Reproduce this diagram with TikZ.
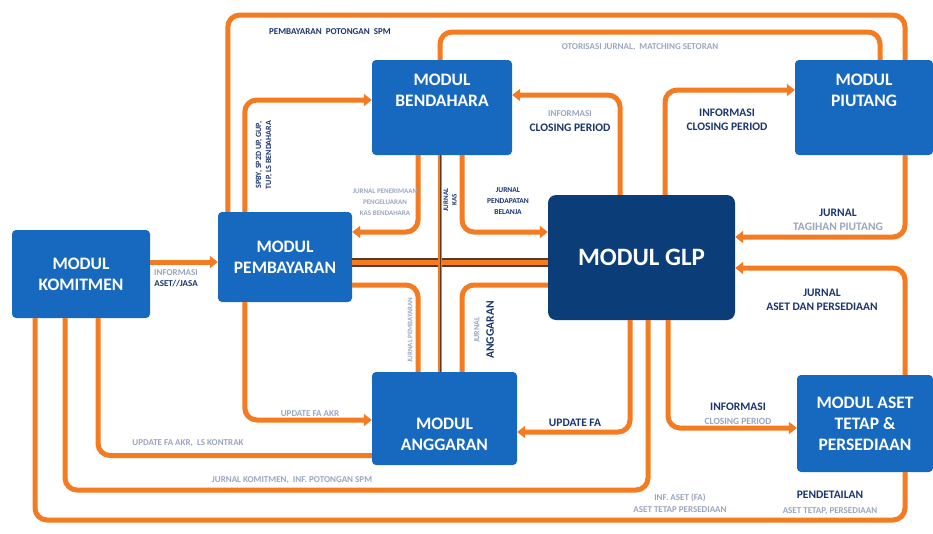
\documentclass[tikz,border=0pt]{standalone}
\usepackage{fontspec}
\setmainfont{Carlito}
\usetikzlibrary{arrows.meta}
\definecolor{modblue}{HTML}{1769C0}
\definecolor{glpblue}{HTML}{0B3D78}
\definecolor{flow}{HTML}{F47B20}
\definecolor{lbl}{HTML}{1A3570}
\definecolor{faintc}{HTML}{9AA6C0}
\definecolor{brownc}{HTML}{5A3A2A}
\begin{document}
\begin{tikzpicture}[x=1pt,y=-1pt,
  module/.style={draw=none, fill=modblue, rounded corners=4pt, inner sep=0pt},
  modtext/.style={text=white, font=\bfseries\fontsize{17.5}{21}\selectfont, align=center, inner sep=0pt},
  flowline/.style={draw=flow, line width=5pt, rounded corners=12pt},
  arr/.style={-{Triangle[length=8pt,width=12pt]}},
  lab/.style={text=lbl, font=\bfseries\fontsize{11.5}{14.5}\selectfont, align=center, inner sep=1pt},
  smalllab/.style={lab, font=\bfseries\fontsize{9}{11.5}\selectfont},
  faint/.style={text=faintc}]
\useasboundingbox[fill=white] (0,0) rectangle (933,533);

% modules
\node[module, minimum width=138, minimum height=88] (komitmen) at (81,274) {};
\node[module, minimum width=134, minimum height=90] (pembayaran) at (285,257) {};
\node[module, minimum width=140, minimum height=95] (bendahara) at (442,107.5) {};
\node[module, fill=glpblue, minimum width=187, minimum height=125, rounded corners=8pt] (glp) at (641.5,257.5) {};
\node[module, minimum width=138, minimum height=95] (piutang) at (864,107.5) {};
\node[module, minimum width=145, minimum height=93] (anggaran) at (444.5,418.5) {};
\node[module, minimum width=136, minimum height=97] (aset) at (865,423.5) {};

% flows
\draw[flowline] ([xshift=10]pembayaran.north west) |- (905,15) -- ([xshift=41]piutang.north);
\draw[flowline] ([xshift=-2]bendahara.north) |- (880,32) -- ([xshift=16]piutang.north);
\draw[flowline, arr] ([xshift=27]pembayaran.north west) |- ([yshift=7.5]bendahara.west);
\draw[flowline, arr] ([xshift=-21.5]glp.north) |- ([yshift=12.5]bendahara.east);
\draw[flowline, arr] ([xshift=23.5]glp.north) |- ([yshift=17.5]piutang.west);
\draw[flowline, arr] ([xshift=41]piutang.south) |- ([yshift=20.5]glp.east);
\draw[flowline, arr] ([xshift=40]aset.north) |- ([yshift=-10.5]glp.east);
\draw[flowline, arr] ([xshift=26.5]glp.south) |- ([yshift=-4.5]aset.west);
\draw[flowline, arr] ([xshift=-11.5]glp.south) |- ([yshift=-13.5]anggaran.east);
\draw[flowline, arr] ([yshift=12]komitmen.east) -- ([yshift=-5]pembayaran.west);
\draw[flowline, arr] ([xshift=27]pembayaran.south west) |- ([yshift=-1.5]anggaran.west);
\draw[flowline] ([xshift=17]komitmen.south) |- ([yshift=-37]anggaran.west);
\draw[flowline] ([xshift=-16]komitmen.south) |- (648,490) -- ([xshift=6.5]glp.south);
\draw[flowline] ([xshift=-46]komitmen.south) |- (905,520) -- ([xshift=40]aset.south);

% central cross
\draw[flowline, arr] ([xshift=-24]bendahara.south) |- ([yshift=25]pembayaran.east);
\draw[flowline, arr] ([xshift=20]bendahara.south) |- ([yshift=25.5]glp.west);
\draw[flowline] ([yshift=-28]pembayaran.east) -| ([xshift=-26.5]anggaran.north);
\draw[flowline] ([yshift=-27.5]glp.west) -| ([xshift=17.5]anggaran.north);
\draw[draw=brownc, line width=9pt] ([yshift=-5]pembayaran.east) -- ([yshift=-4.5]glp.west);
\draw[draw=flow, line width=5pt] ([yshift=-5]pembayaran.east) -- ([yshift=-4.5]glp.west);
\draw[draw=flow, line width=4pt] ([xshift=-2]bendahara.south) -- ([xshift=-4.5]anggaran.north);
\draw[draw=brownc, line width=0.8pt] ([xshift=-2]bendahara.south) -- ([xshift=-4.5]anggaran.north);

% module texts
\node[modtext] (komitmenT) at (komitmen.center) {MODUL\\KOMITMEN};
\node[modtext] (pembayaranT) at (pembayaran.center) {MODUL\\PEMBAYARAN};
\node[modtext] (bendaharaT) at (442,90) {MODUL\\BENDAHARA};
\node[modtext, font=\bfseries\fontsize{25}{30}\selectfont] (glpT) at (glp.center) {MODUL GLP};
\node[modtext] (piutangT) at (864,90) {MODUL\\PIUTANG};
\node[modtext] (anggaranT) at (444.5,434) {MODUL\\ANGGARAN};
\node[modtext] (asetT) at (aset.center) {MODUL ASET\\TETAP \&\\PERSEDIAAN};

% labels
\node[smalllab] (l1) at (330,32) {PEMBAYARAN\ \ POTONGAN\ \ SPM};
\node[smalllab, faint] (l2) at (640,47) {OTORISASI JURNAL,\ \ MATCHING SETORAN};
\node[smalllab, rotate=90, font=\bfseries\fontsize{8}{10}\selectfont] (l3) at (264,155) {SPBY, SP2D UP, GUP,\\TUP, LS BENDAHARA};
\node[smalllab, faint, font=\bfseries\fontsize{7}{11}\selectfont] (l4) at (385,202) {JURNAL PENERIMAAN\\PENGELUARAN\\KAS BENDAHARA};
\node[smalllab, rotate=90, font=\bfseries\fontsize{7}{8.5}\selectfont] (l5) at (450,200) {JURNAL\\KAS};
\node[smalllab, font=\bfseries\fontsize{7.5}{11}\selectfont] (l6) at (508,201) {JURNAL\\PENDAPATAN\\BELANJA};
\node[lab] (l7) at (570,121) {{\color{faintc}\fontsize{9}{11}\selectfont INFORMASI}\\CLOSING PERIOD};
\node[lab] (l8) at (727,120) {INFORMASI\\CLOSING PERIOD};
\node[lab] (l9) at (838,220) {JURNAL\\{\color{faintc}TAGIHAN PIUTANG}};
\node[lab] (l10) at (822,300) {JURNAL\\ASET DAN PERSEDIAAN};
\node[smalllab] (l11) at (176,278) {{\color{faintc}INFORMASI}\\ASET//JASA};
\node[smalllab, faint, rotate=90, font=\bfseries\fontsize{7}{9}\selectfont] (l12) at (410,330) {JURNAL PEMBAYARAN};
\node[lab, rotate=90] (l13) at (484,330) {{\color{faintc}\fontsize{8}{10}\selectfont JURNAL}\\ANGGARAN};
\node[smalllab, faint] (l14) at (310,414) {UPDATE FA AKR};
\node[lab] (l15) at (575,423) {UPDATE FA};
\node[lab] (l16) at (738,414) {INFORMASI\\{\color{faintc}\fontsize{9.5}{12}\selectfont CLOSING PERIOD}};
\node[smalllab, faint] (l17) at (188,443) {UPDATE FA AKR,\ \ LS KONTRAK};
\node[smalllab, faint] (l18) at (292,480) {JURNAL KOMITMEN,\ \ INF. POTONGAN SPM};
\node[smalllab, faint] (l19) at (680,503) {INF. ASET (FA)\\ASET TETAP PERSEDIAAN};
\node[lab] (l20) at (830,503) {PENDETAILAN\\{\color{faintc}\fontsize{9}{11}\selectfont ASET TETAP, PERSEDIAAN}};
\end{tikzpicture}
\end{document}
